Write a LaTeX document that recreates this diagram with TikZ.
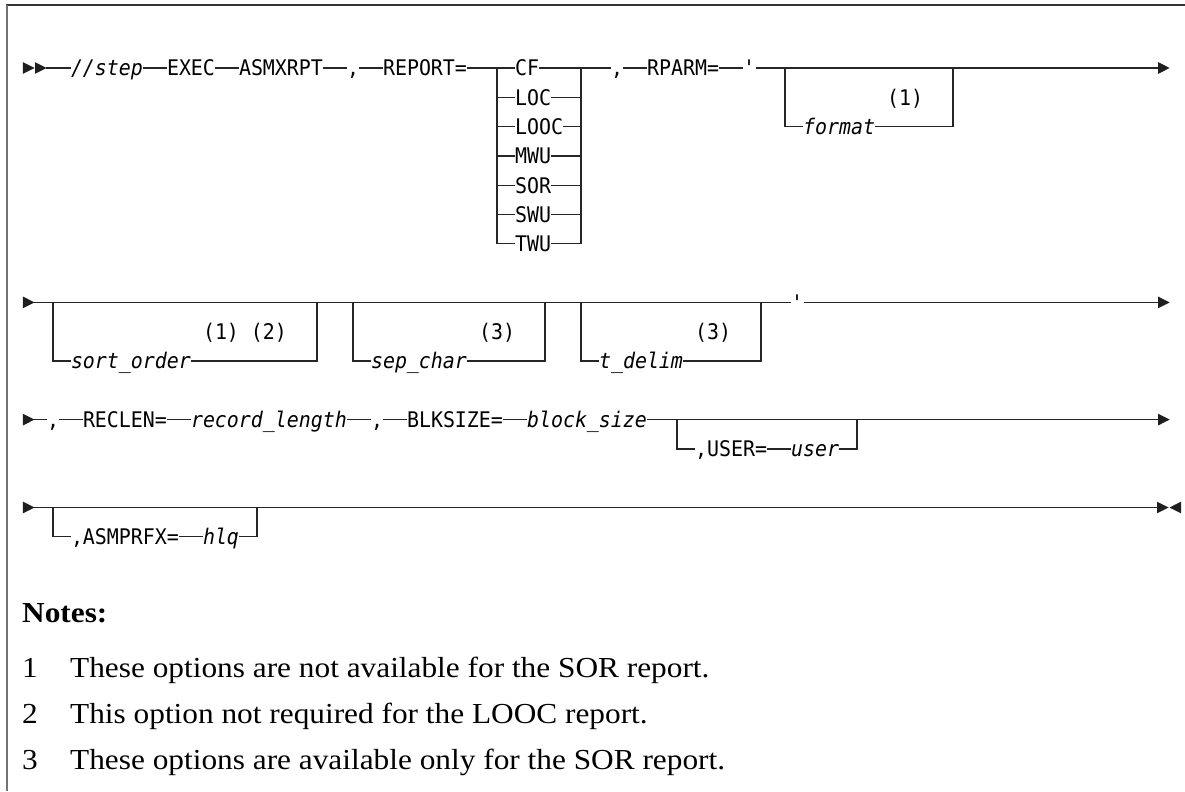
\documentclass[tikz,border=0pt]{standalone}
\usepackage{fontspec}
\usepackage{tikz}
\usetikzlibrary{calc}
\newfontfamily\diafont[FakeStretch=0.927]{DejaVu Sans Mono}
\newfontfamily\notefont[FakeStretch=1.08]{Liberation Serif}

\tikzset{
  %% Keyword / literal token on the rail
  kw/.style={
    inner sep=0pt, outer sep=0pt, anchor=west,
    text height=15.6pt, text depth=0pt,
    font=\diafont\fontsize{21.5pt}{26pt}\selectfont
  },
  %% Variable token (italic)
  var/.style={kw, font=\diafont\itshape\fontsize{21.5pt}{26pt}\selectfont},
  %% Footnote reference
  fref/.style={kw},
  %% Syntax rail
  rail/.style={draw=black!85, line width=1.3pt},
  %% Note text
  note/.style={inner sep=0pt, anchor=base west,
    font=\notefont\fontsize{29pt}{34pt}\selectfont},
}

%% Rail arrow heads
\newcommand{\tipright}[1]{\fill[black!88] (#1) ++(0pt,5.8pt) -- ++(11.5pt,-5.8pt) -- ++(-11.5pt,-5.8pt) -- cycle;}
\newcommand{\tipleft}[1]{\fill[black!88] (#1) ++(0pt,5.8pt) -- ++(-11.5pt,-5.8pt) -- ++(11.5pt,-5.8pt) -- cycle;}

\begin{document}
\begin{tikzpicture}[x=12pt, y=-29.3pt, line join=miter]
  \useasboundingbox (-1.9167,-2.3208) rectangle (96.833,24.676);

  %% Frame
  \draw[black!80, line width=1.6pt] (-1.4167,-2.15) -- (96.833,-2.15);
  \draw[black!55, line width=2.2pt] (-1.3333,-2.15) -- (-1.3333,24.676);

  %% Row 1
  \tipright{0,0}
  \tipright{1,0}
  \coordinate (s1) at (1.9,0);
  \node[var] (step)  at (4,0)  {//step};
  \node[kw]  (exec)  at (12,0) {EXEC};
  \node[kw]  (prog)  at (18,0) {ASMXRPT};
  \node[kw]  (c1)    at (27,0) {,};
  \node[kw]  (rep)   at (30,0) {REPORT=};
  \foreach \nm/\lbl [count=\i from 0] in {cf/CF, loc/LOC, looc/LOOC,
                                          mwu/MWU, sor/SOR, swu/SWU, twu/TWU}
    \node[kw] (\nm) at (41,\i) {\lbl};
  \node[kw]  (c2)    at (49,0) {,};
  \node[kw]  (rparm) at (52,0) {RPARM=};
  \node[kw]  (q1)    at (60,0) {\textquotesingle};
  \node[var] (fmt)   at (65,2) {format};
  \node[fref] (r1)   at (72,1) {(1)};
  \coordinate (bl) at (39.5,0);
  \coordinate (br) at (46.5,0);
  \coordinate (fl) at (63.5,0);
  \coordinate (fr) at (77.5,0);
  \coordinate (e1) at (94.6,0);

  \draw[rail] (s1) -- (step.west);
  \draw[rail] (step.east) -- (exec.west);
  \draw[rail] (exec.east) -- (prog.west);
  \draw[rail] (prog.east) -- (c1.west);
  \draw[rail] (c1.east) -- (rep.west);
  \draw[rail] (rep.east) -- (cf.west);
  \draw[rail] (cf.east) -- (c2.west);
  \draw[rail] (bl) |- (twu.west);
  \draw[rail] (br) |- (twu.east);
  \foreach \nm in {loc, looc, mwu, sor, swu} {
    \draw[rail] (bl |- \nm.west) -- (\nm.west);
    \draw[rail] (\nm.east) -- (br |- \nm.east);
  }
  \draw[rail] (c2.east) -- (rparm.west);
  \draw[rail] (rparm.east) -- (q1.west);
  \draw[rail] (q1.east) -- (e1);
  \draw[rail] (fl) |- (fmt.west);
  \draw[rail] (fmt.east) -| (fr);
  \tipright{94.6,0}

  %% Row 2
  \tipright{0,8}
  \coordinate (s2) at (0.9,8);
  \node[var]  (sort) at (4,10)  {sort\_order};
  \node[fref] (r12)  at (15,9)  {(1) (2)};
  \node[var]  (sep)  at (29,10) {sep\_char};
  \node[fref] (r3a)  at (38,9)  {(3)};
  \node[var]  (tdl)  at (48,10) {t\_delim};
  \node[fref] (r3b)  at (56,9)  {(3)};
  \node[kw]   (q2)   at (64,8)  {\textquotesingle};
  \coordinate (sl) at (2.5,8);
  \coordinate (sr) at (24.5,8);
  \coordinate (pl) at (27.5,8);
  \coordinate (pr) at (43.5,8);
  \coordinate (tl) at (46.5,8);
  \coordinate (tr) at (61.5,8);
  \coordinate (e2) at (94.6,8);

  \draw[rail] (s2) -- (q2.west);
  \draw[rail] (q2.east) -- (e2);
  \draw[rail] (sl) |- (sort.west);
  \draw[rail] (sort.east) -| (sr);
  \draw[rail] (pl) |- (sep.west);
  \draw[rail] (sep.east) -| (pr);
  \draw[rail] (tl) |- (tdl.west);
  \draw[rail] (tdl.east) -| (tr);
  \tipright{94.6,8}

  %% Row 3
  \tipright{0,12}
  \coordinate (s3) at (0.9,12);
  \node[kw]  (c3)     at (2,12)  {,};
  \node[kw]  (reclen) at (5,12)  {RECLEN=};
  \node[var] (rlen)   at (14,12) {record\_length};
  \node[kw]  (c4)     at (29,12) {,};
  \node[kw]  (blk)    at (32,12) {BLKSIZE=};
  \node[var] (bsz)    at (42,12) {block\_size};
  \node[kw]  (usr)    at (56,13) {,USER=};
  \node[var] (uval)   at (64,13) {user};
  \coordinate (ul) at (54.5,12);
  \coordinate (ur) at (69.5,12);
  \coordinate (e3) at (94.6,12);

  \draw[rail] (s3) -- (c3.west);
  \draw[rail] (c3.east) -- (reclen.west);
  \draw[rail] (reclen.east) -- (rlen.west);
  \draw[rail] (rlen.east) -- (c4.west);
  \draw[rail] (c4.east) -- (blk.west);
  \draw[rail] (blk.east) -- (bsz.west);
  \draw[rail] (bsz.east) -- (e3);
  \draw[rail] (ul) |- (usr.west);
  \draw[rail] (usr.east) -- (uval.west);
  \draw[rail] (uval.east) -| (ur);
  \tipright{94.6,12}

  %% Row 4
  \tipright{0,15}
  \coordinate (s4) at (0.9,15);
  \node[kw]  (pfx) at (4,16)  {,ASMPRFX=};
  \node[var] (hlq) at (15,16) {hlq};
  \coordinate (al) at (2.5,15);
  \coordinate (ar) at (19.5,15);
  \coordinate (e4) at (94.5,15);

  \draw[rail] (s4) -- (e4);
  \draw[rail] (al) |- (pfx.west);
  \draw[rail] (pfx.east) -- (hlq.west);
  \draw[rail] (hlq.east) -| (ar);
  \tipright{94.5,15}
  \tipleft{96.5,15}

  %% Notes
  \node[note] (nh) at (-0.083,18.94) {\bfseries Notes:};
  \node[note] (k1) at (-0.083,20.785) {1};
  \node[note] (t1) at (3.9167,20.785) {These options are not available for the SOR report.};
  \node[note] (k2) at (-0.083,22.355) {2};
  \node[note] (t2) at (3.9167,22.355) {This option not required for the LOOC report.};
  \node[note] (k3) at (-0.083,23.925) {3};
  \node[note] (t3) at (3.9167,23.925) {These options are available only for the SOR report.};
\end{tikzpicture}
\end{document}
